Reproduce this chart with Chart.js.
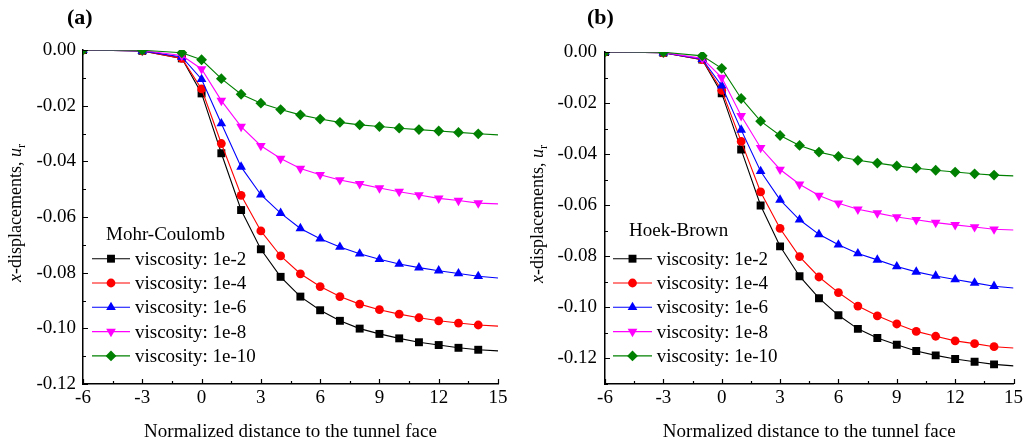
<!DOCTYPE html>
<html>
<head>
<meta charset="utf-8">
<script src="https://cdn.jsdelivr.net/npm/chart.js"></script>
<style>
  html, body { margin: 0; padding: 0; background: #fff; }
  #wrap { position: relative; width: 1026px; height: 446px; }
  canvas { position: absolute; top: 0; }
</style>
</head>
<body>
<div id="wrap">
  <canvas id="chartA" width="513" height="446" style="left:0"></canvas>
  <canvas id="chartB" width="513" height="446" style="left:513px"></canvas>
</div>
<script>
// distance to the tunnel face (last point has no marker)
const distance = [-6, -3, -1, 0, 1, 2, 3, 4, 5, 6, 7, 8, 9, 10, 11, 12, 13, 14, 15];
const viscosityLabels = ["viscosity: 1e-2", "viscosity: 1e-4", "viscosity: 1e-6", "viscosity: 1e-8", "viscosity: 1e-10"];
const xTicks = [-6, -3, 0, 3, 6, 9, 12, 15];
const yTicksA = [0, -0.02, -0.04, -0.06, -0.08, -0.10, -0.12];
const yTicksB = [0, -0.02, -0.04, -0.06, -0.08, -0.10, -0.12];

// (a) Mohr-Coulomb
const mc_1e2 = [0, -0.0003, -0.003, -0.0156, -0.0371, -0.0575, -0.0716, -0.0815, -0.0886, -0.0935, -0.0973, -0.1001, -0.1020, -0.1036, -0.1050, -0.1060, -0.1070, -0.1077, -0.1081];
const mc_1e4 = [0, -0.0003, -0.003, -0.0140, -0.0336, -0.0522, -0.0650, -0.0740, -0.0804, -0.0850, -0.0886, -0.0913, -0.0933, -0.0949, -0.0962, -0.0973, -0.0981, -0.0988, -0.0992];
const mc_1e6 = [0, -0.0003, -0.0025, -0.0105, -0.0264, -0.0420, -0.0520, -0.0586, -0.0641, -0.0678, -0.0708, -0.0732, -0.0752, -0.0769, -0.0782, -0.0793, -0.0803, -0.0813, -0.0819];
const mc_1e8 = [0, -0.0002, -0.002, -0.0068, -0.0182, -0.0275, -0.0344, -0.0390, -0.0426, -0.0448, -0.0467, -0.0481, -0.0496, -0.0509, -0.0521, -0.0533, -0.0541, -0.0550, -0.0553];
const mc_1e10 = [0, -0.0001, -0.001, -0.0035, -0.0103, -0.0159, -0.0191, -0.0214, -0.0233, -0.0248, -0.0260, -0.0269, -0.0275, -0.0281, -0.0286, -0.0291, -0.0296, -0.0301, -0.0305];

// (b) Hoek-Brown
const hb_1e2 = [0, -0.0003, -0.003, -0.0162, -0.0382, -0.0601, -0.0761, -0.0878, -0.0964, -0.1031, -0.1084, -0.1120, -0.1146, -0.1171, -0.1188, -0.1202, -0.1213, -0.1223, -0.1229];
const hb_1e4 = [0, -0.0003, -0.003, -0.0150, -0.0350, -0.0548, -0.0691, -0.0801, -0.0881, -0.0942, -0.0995, -0.1033, -0.1065, -0.1094, -0.1113, -0.1131, -0.1142, -0.1154, -0.1159];
const hb_1e6 = [0, -0.0003, -0.0028, -0.0132, -0.0305, -0.0467, -0.0579, -0.0657, -0.0714, -0.0755, -0.0789, -0.0814, -0.0840, -0.0861, -0.0877, -0.0891, -0.0904, -0.0917, -0.0924];
const hb_1e8 = [0, -0.0002, -0.0025, -0.0100, -0.0250, -0.0375, -0.0460, -0.0518, -0.0562, -0.0592, -0.0616, -0.0631, -0.0646, -0.0657, -0.0668, -0.0677, -0.0685, -0.0694, -0.0697];
const hb_1e10 = [0, -0.0001, -0.0015, -0.0064, -0.0182, -0.0271, -0.0327, -0.0366, -0.0392, -0.0409, -0.0424, -0.0435, -0.0446, -0.0455, -0.0463, -0.0470, -0.0477, -0.0482, -0.0485];

const seriesStyle = [
  { color: "#000000", pointStyle: "rect", radius: 5.6, rotation: 0 },
  { color: "#ff0000", pointStyle: "circle", radius: 4.4, rotation: 0 },
  { color: "#0000ff", pointStyle: "triangle", radius: 5.6, rotation: 0 },
  { color: "#ff00ff", pointStyle: "triangle", radius: 5.6, rotation: 180 },
  { color: "#008000", pointStyle: "rectRot", radius: 5.4, rotation: 0 },
];

const SERIF = "'Liberation Serif', 'Times New Roman', serif";

function buildDatasets(series) {
  return series.map(function (values, i) {
    const s = seriesStyle[i];
    return {
      label: viscosityLabels[i],
      data: distance.map((x, k) => ({ x: x, y: values[k] })),
      borderColor: s.color,
      backgroundColor: s.color,
      borderWidth: 1.1,
      pointStyle: s.pointStyle,
      pointRotation: s.rotation,
      pointRadius: (ctx) => (ctx.dataIndex === distance.length - 1 ? 0 : s.radius),
      pointBorderWidth: 0,
      pointBackgroundColor: s.color,
      tension: 0,
      order: 5 - i,
    };
  });
}

// inward ticks, y-axis title, panel tag and legend
const decor = {
  id: "decor",
  afterDraw(chart, args, o) {
    const c = chart.ctx;
    const area = chart.chartArea;
    const xs = chart.scales.x;
    const ys = chart.scales.y;
    c.save();
    c.strokeStyle = "#000";
    c.lineWidth = 1.2;
    c.beginPath();
    for (let v = xs.min; v <= xs.max + 1e-9; v += 1.5) {
      const px = Math.round(xs.getPixelForValue(v)) + 0.5;
      const major = Math.abs(v / 3 - Math.round(v / 3)) < 1e-6;
      c.moveTo(px, area.bottom);
      c.lineTo(px, area.bottom - (major ? 5 : 3));
    }
    for (let v = ys.max; v >= ys.min - 1e-9; v -= 0.01) {
      const py = Math.round(ys.getPixelForValue(v)) + 0.5;
      const major = Math.abs(v / 0.02 - Math.round(v / 0.02)) < 1e-6;
      c.moveTo(area.left, py);
      c.lineTo(area.left + (major ? 5 : 3), py);
    }
    c.stroke();

    // y-axis title: x-displacements, u_r
    c.fillStyle = "#000";
    c.textBaseline = "alphabetic";
    c.textAlign = "left";
    const parts = [
      { t: "x", f: "italic 18px " + SERIF, dy: 0 },
      { t: "-displacements, ", f: "18px " + SERIF, dy: 0 },
      { t: "u", f: "italic 18px " + SERIF, dy: 0 },
      { t: "r", f: "12px " + SERIF, dy: 4 },
    ];
    let total = 0;
    parts.forEach((p) => { c.font = p.f; p.w = c.measureText(p.t).width; total += p.w; });
    c.translate(area.left - 62, (area.top + area.bottom) / 2 - 4);
    c.rotate(-Math.PI / 2);
    let cx = -total / 2;
    parts.forEach((p) => { c.font = p.f; c.fillText(p.t, cx, p.dy); cx += p.w; });
    c.setTransform(1, 0, 0, 1, 0, 0);

    // panel tag
    c.font = "bold 22px " + SERIF;
    c.textBaseline = "middle";
    c.fillText(o.tag, o.tagX, 18.5);

    // legend
    c.font = "19px " + SERIF;
    c.fillText(o.legendTitle, o.titleX, o.titleY);
    chart.data.datasets.forEach(function (ds, i) {
      const s = seriesStyle[i];
      const y = o.rowY + i * o.rowGap;
      c.strokeStyle = ds.borderColor;
      c.lineWidth = 1.1;
      c.beginPath();
      c.moveTo(o.lineX1, y);
      c.lineTo(o.lineX2, y);
      c.stroke();
      c.fillStyle = ds.borderColor;
      Chart.helpers.drawPoint(c, { pointStyle: s.pointStyle, rotation: s.rotation, radius: s.radius, borderWidth: 0 }, (o.lineX1 + o.lineX2) / 2, y);
      c.fillStyle = "#000";
      c.fillText(ds.label, o.textX, y + 1);
    });
    c.restore();
  },
};

function makeOptions(cfg) {
  return {
    responsive: false,
    animation: false,
    devicePixelRatio: 1,
    layout: { padding: { left: 0, top: cfg.top, right: cfg.right, bottom: 0 } },
    plugins: {
      legend: { display: false },
      tooltip: { enabled: false },
      decor: cfg.decor,
    },
    scales: {
      x: {
        type: "linear",
        min: -6,
        max: 15,
        afterBuildTicks: (scale) => { scale.ticks = xTicks.map((v) => ({ value: v })); },
        afterFit: (scale) => { scale.height = 62; },
        grid: { display: false, drawTicks: false },
        border: { display: true, color: "#000", width: 1.5 },
        ticks: { color: "#000", padding: 3, maxRotation: 0, font: { family: SERIF, size: 19 }, callback: (v) => String(v) },
        title: { display: true, text: "Normalized distance to the tunnel face", color: "#000", padding: { top: 0, bottom: 3 }, font: { family: SERIF, size: 19 } },
      },
      y: {
        type: "linear",
        min: cfg.yMin,
        max: 0,
        afterBuildTicks: (scale) => { scale.ticks = cfg.yTicks.map((v) => ({ value: v })); },
        afterFit: (scale) => { scale.width = cfg.yWidth; },
        grid: { display: false, drawTicks: false },
        border: { display: true, color: "#000", width: 1.5 },
        ticks: { color: "#000", padding: cfg.yPad, font: { family: SERIF, size: 19 }, callback: (v) => v.toFixed(2) },
      },
    },
  };
}

document.addEventListener("DOMContentLoaded", function () {
  var ctxA = document.getElementById("chartA").getContext("2d");
  var chartA = new Chart(ctxA, {
    type: "line",
    data: { datasets: buildDatasets([mc_1e2, mc_1e4, mc_1e6, mc_1e8, mc_1e10]) },
    options: makeOptions({
      top: 50, right: 15, yWidth: 83, yPad: 7, yMin: -0.12, yTicks: yTicksA,
      decor: { tag: "(a)", tagX: 67, legendTitle: "Mohr-Coulomb", titleX: 106, titleY: 235, rowY: 258.7, rowGap: 24.3, lineX1: 92, lineX2: 130, textX: 135 },
    }),
    plugins: [decor],
  });

  var ctxB = document.getElementById("chartB").getContext("2d");
  var chartB = new Chart(ctxB, {
    type: "line",
    data: { datasets: buildDatasets([hb_1e2, hb_1e4, hb_1e6, hb_1e8, hb_1e10]) },
    options: makeOptions({
      top: 52, right: 10, yWidth: 92, yPad: 8, yMin: -0.13, yTicks: yTicksB,
      decor: { tag: "(b)", tagX: 74, legendTitle: "Hoek-Brown", titleX: 116, titleY: 231, rowY: 258.7, rowGap: 24.3, lineX1: 100, lineX2: 139, textX: 143.7 },
    }),
    plugins: [decor],
  });
});
</script>
</body>
</html>
